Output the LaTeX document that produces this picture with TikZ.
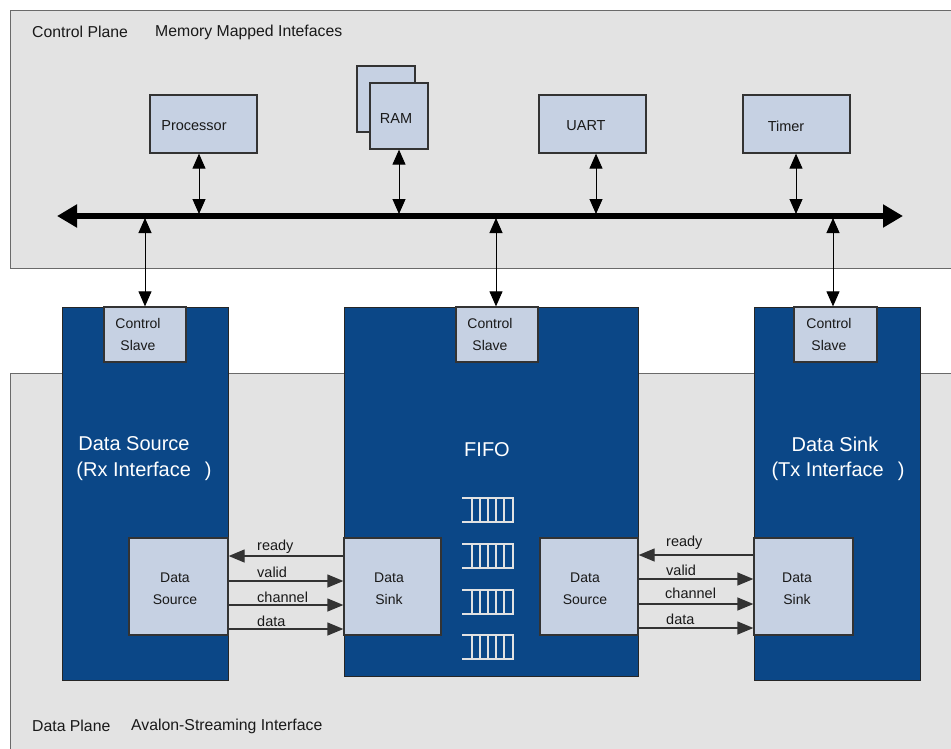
\documentclass[tikz,border=0pt]{standalone}
\usepackage{fontspec}
\setmainfont{Liberation Sans}
\usetikzlibrary{arrows.meta}
\definecolor{panelgray}{HTML}{E3E3E3}
\definecolor{paneledge}{HTML}{6A6A6A}
\definecolor{blockblue}{HTML}{0B4787}
\definecolor{lightbox}{HTML}{C6D1E3}
\definecolor{boxedge}{HTML}{333333}
\definecolor{fifoline}{HTML}{E2E2E2}
\begin{document}
\begin{tikzpicture}[x=1pt,y=-1pt,
  panel/.style={draw=paneledge,fill=panelgray,line width=1pt},
  lbox/.style={draw=boxedge,fill=lightbox,line width=1.3pt,rectangle,inner sep=0pt},
  bblock/.style={draw=black!85,fill=blockblue,line width=1pt,rectangle,inner sep=0pt},
  txt/.style={font=\fontsize{14.5}{17}\selectfont,inner sep=0pt,text=black!90},
  paneltxt/.style={font=\fontsize{15.8}{18}\selectfont,inner sep=0pt,text=black!90},
  smalltxt/.style={font=\fontsize{14}{22}\selectfont,inner sep=0pt,align=center,text=black!90},
  bigtxt/.style={font=\fontsize{20}{27}\selectfont,inner sep=0pt,text=white},
  vbi/.style={line width=1pt,{Triangle[length=15pt,width=13pt]}-{Triangle[length=15pt,width=13pt]}},
  sig/.style={line width=1.3pt,draw=black!80,-{Triangle[length=16pt,width=13pt]}},
  fifoicon/.style={draw=fifoline,line width=2pt}
]
\useasboundingbox (0,0) rectangle (951,748);
\clip (0,0) rectangle (951,748);
\fill[white] (0,0) rectangle (951,748);

% panels
\draw[panel] (10,10) rectangle (965,268);
\draw[panel] (10,373) rectangle (965,760);

\node[paneltxt,anchor=west] (cp) at (32,32) {Control Plane};
\node[paneltxt,anchor=west] (mmi) at (155,32) {Memory Mapped Intefaces};
\node[paneltxt,anchor=west] (dp) at (32,726) {Data Plane};
\node[paneltxt,anchor=west] (asi) at (131,726) {Avalon-Streaming Interface};

% memory mapped boxes
\node[lbox,minimum width=107pt,minimum height=58pt] (proc) at (203.5,124) {};
\node[txt] (procT) at (194,126) {Processor};
\node[lbox,minimum width=58pt,minimum height=66pt] (ramB) at (386,99) {};
\node[lbox,minimum width=58pt,minimum height=66pt] (ram) at (399,116) {};
\node[txt] (ramT) at (396,119) {RAM};
\node[lbox,minimum width=107pt,minimum height=58pt] (uart) at (592.5,124) {};
\node[txt] (uartT) at (586,126) {UART};
\node[lbox,minimum width=107pt,minimum height=58pt] (timer) at (796.5,124) {};
\node[txt] (timerT) at (786,126) {Timer};

% bus
\coordinate (busL) at (57,216);
\coordinate (busR) at (903,216);
\draw[line width=6pt,{Triangle[length=20pt,width=22pt]}-{Triangle[length=20pt,width=22pt]}] (busL) -- (busR);

\draw[vbi] (proc.south -| 199,0) -- (199,214);
\draw[vbi] (ram.south -| 399,0) -- (399,214);
\draw[vbi] (uart.south -| 596,0) -- (596,214);
\draw[vbi] (timer.south -| 796,0) -- (796,214);

% blocks
\node[bblock,minimum width=166pt,minimum height=373pt] (srcblk) at (145,493.5) {};
\node[bblock,minimum width=294pt,minimum height=369pt] (fifoblk) at (491,491.5) {};
\node[bblock,minimum width=166pt,minimum height=373pt] (sinkblk) at (837,493.5) {};

% control slaves
\node[lbox,minimum width=82pt,minimum height=55pt] (cs1) at (145,334.5) {};
\node[smalltxt] (cs1T) at (138,334.5) {Control\\Slave};
\node[lbox,minimum width=82pt,minimum height=55pt] (cs2) at (497,334.5) {};
\node[smalltxt] (cs2T) at (490,334.5) {Control\\Slave};
\node[lbox,minimum width=83pt,minimum height=55pt] (cs3) at (835.5,334.5) {};
\node[smalltxt] (cs3T) at (829,334.5) {Control\\Slave};

\draw[vbi] (145,218) -- (cs1.north -| 145,0);
\draw[vbi] (496,218) -- (cs2.north -| 496,0);
\draw[vbi] (833,218) -- (cs3.north -| 833,0);

% block titles
\node[bigtxt] (srcT1) at (134,444) {Data Source};
\node[bigtxt] (srcT2) at (144,471) {(Rx Interface\hspace{14pt})};
\node[bigtxt] (fifoT) at (487,450) {FIFO};
\node[bigtxt] (sinkT1) at (835,444) {Data Sink};
\node[bigtxt] (sinkT2) at (838,471) {(Tx Interface\hspace{14pt})};

% inner ports
\node[lbox,minimum width=99pt,minimum height=97pt] (dsrc) at (178.5,586.5) {};
\node[smalltxt] (dsrcT) at (175,589) {Data\\Source};
\node[lbox,minimum width=97pt,minimum height=97pt] (fsink) at (392.5,586.5) {};
\node[smalltxt] (fsinkT) at (389,589) {Data\\Sink};
\node[lbox,minimum width=98pt,minimum height=97pt] (fsrc) at (589,586.5) {};
\node[smalltxt] (fsrcT) at (585,589) {Data\\Source};
\node[lbox,minimum width=99pt,minimum height=97pt] (dsink) at (803.5,586.5) {};
\node[smalltxt] (dsinkT) at (797,589) {Data\\Sink};

% FIFO icons
\foreach \yy in {498,544,590,635}{
  \draw[fifoicon] (462,\yy) -- (514,\yy);
  \draw[fifoicon] (462,\yy+24) -- (514,\yy+24);
  \foreach \xx in {472,480,488,496,504,513}{
    \draw[fifoicon] (\xx,\yy) -- (\xx,\yy+24);
  }
}

% signals left
\coordinate (l1) at (0,556);
\coordinate (l2) at (0,581);
\coordinate (l3) at (0,605);
\coordinate (l4) at (0,629);
\draw[sig] (fsink.west |- l1) -- (dsrc.east |- l1);
\draw[sig] (dsrc.east |- l2) -- (fsink.west |- l2);
\draw[sig] (dsrc.east |- l3) -- (fsink.west |- l3);
\draw[sig] (dsrc.east |- l4) -- (fsink.west |- l4);
\node[txt,anchor=west] (lr) at (257,547) {ready};
\node[txt,anchor=west] (lv) at (257,572) {valid};
\node[txt,anchor=west] (lc) at (257,597) {channel};
\node[txt,anchor=west] (ld) at (257,621) {data};

% signals right
\coordinate (r1) at (0,555);
\coordinate (r2) at (0,579);
\coordinate (r3) at (0,604);
\coordinate (r4) at (0,628);
\draw[sig] (dsink.west |- r1) -- (fsrc.east |- r1);
\draw[sig] (fsrc.east |- r2) -- (dsink.west |- r2);
\draw[sig] (fsrc.east |- r3) -- (dsink.west |- r3);
\draw[sig] (fsrc.east |- r4) -- (dsink.west |- r4);
\node[txt,anchor=west] (rr) at (666,543) {ready};
\node[txt,anchor=west] (rv) at (666,570) {valid};
\node[txt,anchor=west] (rc) at (665,593) {channel};
\node[txt,anchor=west] (rd) at (666,619) {data};
\end{tikzpicture}
\end{document}
